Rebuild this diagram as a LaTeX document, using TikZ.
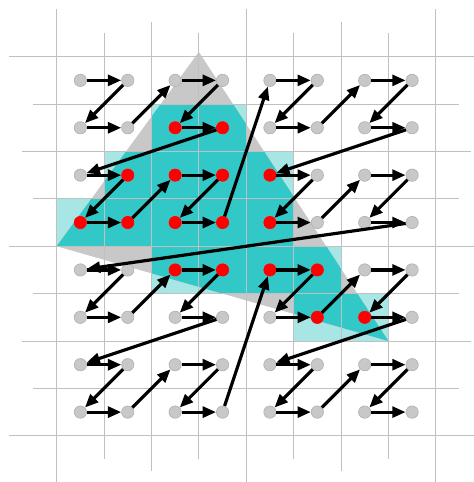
\documentclass[tikz,border=0pt]{standalone}
\usepackage{xcolor}
\usepackage{tikz}
\usetikzlibrary{arrows.meta}

\definecolor{cellcyan}{RGB}{50,200,200}
\definecolor{celllight}{RGB}{168,230,230}
\definecolor{trigray}{RGB}{200,200,200}
\definecolor{gridgray}{RGB}{192,192,192}
\definecolor{dotgray}{RGB}{200,200,200}

\begin{document}
\begin{tikzpicture}[y=-1cm,
    gridline/.style={draw=gridgray, line width=0.6pt},
    dot/.style={circle, inner sep=0pt, minimum size=0.26cm, fill=dotgray, draw=gray!60, line width=0.4pt},
    hit/.style={fill=red, draw=red},
    zarrow/.style={-{Triangle[length=8pt, width=6.5pt]}, line width=1.9pt},
    declare function={zcol(\k)=mod(\k,2)+2*mod(int(\k/4),2)+4*mod(int(\k/16),2);
                      zrow(\k)=mod(int(\k/2),2)+2*mod(int(\k/8),2)+4*int(\k/32);}]
    \useasboundingbox (-1.196,-1.196) rectangle (8.785,8.975);

    \def\covered{1/2,1/3,2/1,2/2,2/3,2/4,3/0,3/1,3/2,3/3,3/4,4/2,4/3,4/4,4/5,5/5,5/6}

    % covered pixels, then the triangle over them
    \foreach \rr/\cc in \covered
        \fill[celllight] (\cc,\rr) rectangle ++(1,1);
    \fill[trigray] (0,4) -- (3,-0.1) -- (7,6) -- cycle;
    \begin{scope}
        \clip (0,4) -- (3,-0.1) -- (7,6) -- cycle;
        \foreach \rr/\cc in \covered
            \fill[cellcyan] (\cc,\rr) rectangle ++(1,1);
    \end{scope}

    % pixel grid
    \foreach \i in {0,...,8} {
        \pgfmathsetmacro\ext{ifthenelse(mod(\i,4)==0, 1, ifthenelse(mod(\i,2)==0, 0.74, 0.5))}
        \draw[gridline] (\i,-\ext) -- (\i,8+\ext);
        \draw[gridline] (-\ext,\i) -- (8+\ext,\i);
    }

    % pixel centres
    \foreach \rr in {0,...,7}
        \foreach \cc in {0,...,7}
            \node[dot] (n-\rr-\cc) at (\cc+0.5,\rr+0.5) {};
    \foreach \rr/\cc in \covered
        \node[dot, hit] (n-\rr-\cc) at (\cc+0.5,\rr+0.5) {};

    % Z-order walk
    \foreach \i in {0,...,62} {
        \pgfmathtruncatemacro\ra{zrow(\i)}
        \pgfmathtruncatemacro\ca{zcol(\i)}
        \pgfmathtruncatemacro\rb{zrow(\i+1)}
        \pgfmathtruncatemacro\cb{zcol(\i+1)}
        \draw[zarrow] (n-\ra-\ca) -- (n-\rb-\cb);
    }
\end{tikzpicture}
\end{document}
